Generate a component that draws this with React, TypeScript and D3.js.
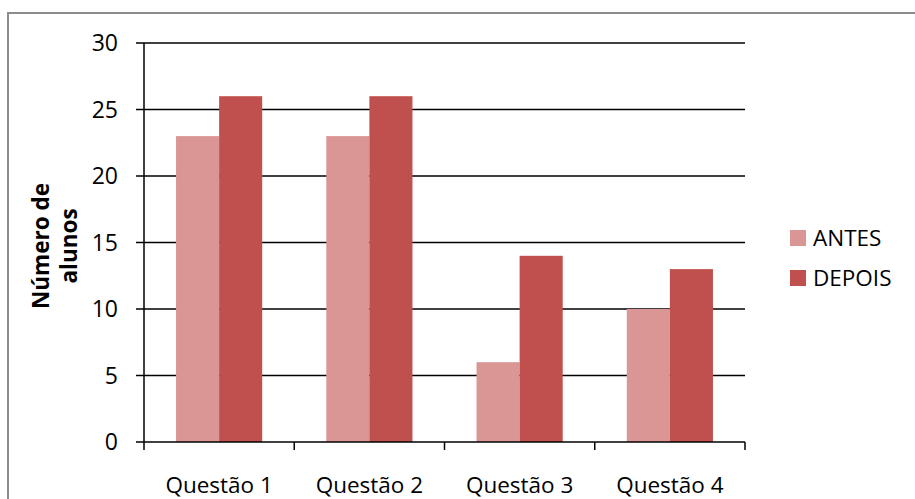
import React from "react";
import * as d3 from "d3";

const categories = ["Questão 1", "Questão 2", "Questão 3", "Questão 4"];
const seriesNames = ["ANTES", "DEPOIS"];
const antes = [23, 23, 6, 10];
const depois = [26, 26, 14, 13];
const yTicks = [0, 5, 10, 15, 20, 25, 30];
const colors = ["#D99694", "#C0504D"];

const W = 915;
const H = 499;
const FONT = "'Open Sans', 'Noto Sans', sans-serif";

export default function App() {
  const x = d3.scaleBand<string>().domain(categories).range([144, 745]).paddingInner(0).paddingOuter(0);
  const xs = d3.scaleBand<string>().domain(seriesNames).range([0, x.bandwidth()]).paddingInner(0).paddingOuter(0.744);
  const y = d3.scaleLinear().domain([0, 30]).range([442, 43]);
  const values = [antes, depois];
  const boundaries = categories.map((c) => x(c)!).concat([x.range()[1]]);

  return (
    <svg width={W} height={H} style={{ position: "fixed", left: 0, top: 0, background: "#fff" }} fontFamily={FONT}>
      <rect x={0} y={0} width={W} height={H} fill="#fff" />
      <rect x={8} y={13} width={W + 20} height={H + 20} fill="none" stroke="#8c8c8c" strokeWidth={2} />
      {/* gridlines */}
      {yTicks.filter((t) => t > 0).map((t) => (
        <line key={"g" + t} x1={144} x2={745} y1={y(t)} y2={y(t)} stroke="#000" strokeWidth={1.5} />
      ))}
      {/* bars */}
      {seriesNames.map((s, si) =>
        categories.map((c, ci) => (
          <rect
            key={s + c}
            x={x(c)! + xs(s)!}
            y={y(values[si][ci])}
            width={xs.bandwidth()}
            height={y(0) - y(values[si][ci])}
            fill={colors[si]}
          />
        ))
      )}
      {/* y axis */}
      <line x1={144} x2={144} y1={y(30)} y2={y(0)} stroke="#000" strokeWidth={1.5} />
      {yTicks.map((t) => (
        <g key={"t" + t}>
          <line x1={136} x2={144} y1={y(t)} y2={y(t)} stroke="#000" strokeWidth={1.5} />
          <text x={118} y={y(t)} dy="0.36em" textAnchor="end" fontSize={23} fill="#000">
            {t}
          </text>
        </g>
      ))}
      {/* x axis */}
      <line x1={144} x2={745} y1={y(0)} y2={y(0)} stroke="#000" strokeWidth={1.5} />
      {boundaries.map((b, i) => (
        <line key={"xb" + i} x1={b} x2={b} y1={y(0)} y2={y(0) + 8} stroke="#000" strokeWidth={1.5} />
      ))}
      {categories.map((c) => (
        <text key={"xl" + c} x={x(c)! + x.bandwidth() / 2} y={493} textAnchor="middle" fontSize={22.5} fill="#000">
          {c}
        </text>
      ))}
      {/* y title */}
      <g transform={`translate(55,246) rotate(-90)`}>
        <text x={0} y={-6} textAnchor="middle" fontSize={22.5} fontWeight="bold" fill="#000">
          Número de
        </text>
        <text x={0} y={22} textAnchor="middle" fontSize={22.5} fontWeight="bold" fill="#000">
          alunos
        </text>
      </g>
      {/* legend */}
      {seriesNames.map((s, i) => (
        <g key={"lg" + s} transform={`translate(790,${230 + i * 40})`}>
          <rect x={0} y={0} width={16} height={16} fill={colors[i]} />
          <text x={23} y={15.5} fontSize={22.5} fill="#000">
            {s}
          </text>
        </g>
      ))}
    </svg>
  );
}
